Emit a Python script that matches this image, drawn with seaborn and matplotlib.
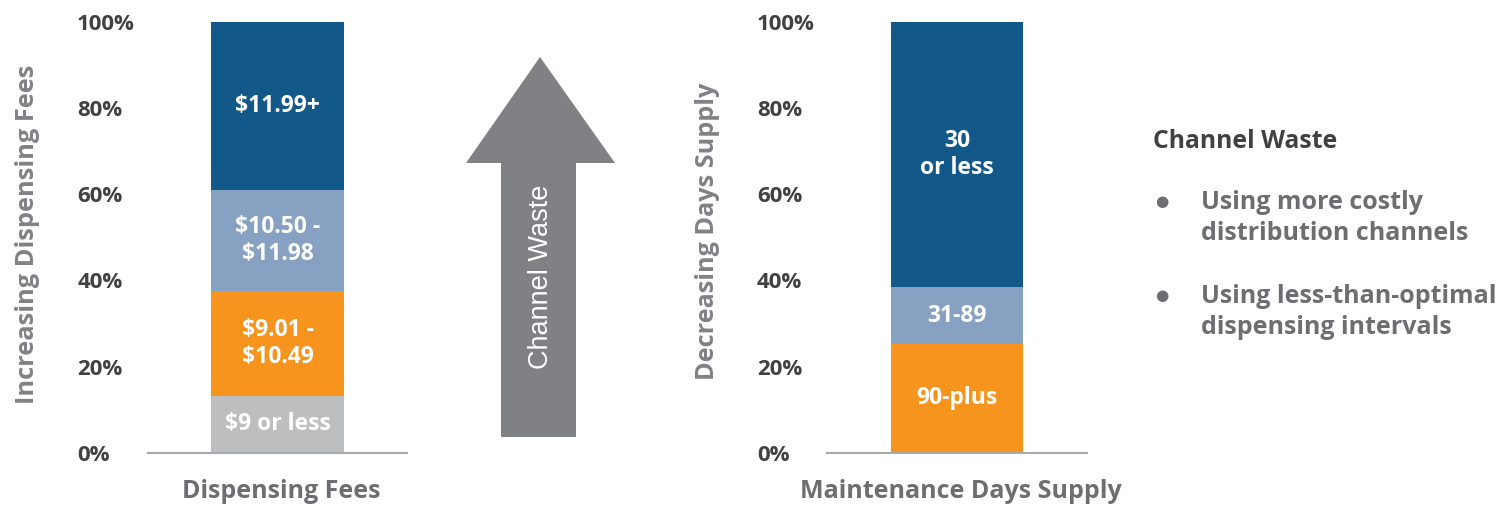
import matplotlib
matplotlib.use("Agg")
import matplotlib.pyplot as plt
from matplotlib.patches import Polygon
import seaborn as sns
import pandas as pd
import numpy as np

# ---------------- data ----------------
fee_categories = ["$9 or less", "$9.01 -\n$10.49", "$10.50 -\n$11.98", "$11.99+"]
fee_shares = [13.2, 24.4, 23.4, 39.0]
days_categories = ["90-plus", "31-89", "30\nor less"]
days_shares = [25.2, 13.2, 61.6]
yticks = [0, 20, 40, 60, 80, 100]
ytick_labels = ["0%", "20%", "40%", "60%", "80%", "100%"]
bullets = ["Using more costly\ndistribution channels",
           "Using less-than-optimal\ndispensing intervals"]

fee_colors = ["#bcbec0", "#f7941e", "#86a1c2", "#12598a"]
days_colors = ["#f7941e", "#86a1c2", "#12598a"]

sns.set_theme(style="white")
plt.rcParams["font.family"] = ["Open Sans", "DejaVu Sans"]

W, H = 1505, 509
fig = plt.figure(figsize=(W / 100, H / 100), dpi=100)


def px(x, y):
    return x / W, 1 - y / H


def stacked(ax, name, cats, shares, colors):
    cum = np.cumsum(shares)
    df = pd.DataFrame({"group": [name] * len(cats), "segment": cats,
                       "cum": cum, "share": shares})
    # draw tallest first so smaller cumulative bars sit in front
    for i in range(len(cats) - 1, -1, -1):
        sns.barplot(data=df.iloc[[i]], x="group", y="cum", color=colors[i],
                    width=0.51, saturation=1, ax=ax, edgecolor="none",
                    linewidth=0)
    bottoms = cum - np.array(shares)
    for c, b, s in zip(cats, bottoms, shares):
        ax.text(0, b + s / 2, c, ha="center", va="center", color="white",
                fontsize=16.5, fontweight="bold", linespacing=1.15)
    ax.set_xlim(-0.5, 0.5)
    ax.set_ylim(0, 100)
    ax.set_yticks(yticks)
    ax.set_yticklabels(ytick_labels)
    for sp in ["top", "right", "left"]:
        ax.spines[sp].set_visible(False)
    ax.spines["bottom"].set_color("#a7a9ac")
    ax.spines["bottom"].set_linewidth(1.5)
    ax.set_xticks([])
    ax.set_xlabel("")
    ax.set_ylabel("")
    ax.tick_params(axis="y", length=0, labelsize=16, labelcolor="#414042")
    for t in ax.get_yticklabels():
        t.set_fontweight("bold")
        t.set_ha("left")


ax1 = fig.add_axes([148 / W, 1 - 452.7 / H, 259 / W, 430.7 / H])
stacked(ax1, "Dispensing Fees", fee_categories, fee_shares, fee_colors)
ax1.tick_params(axis="y", pad=51)

ax2 = fig.add_axes([827 / W, 1 - 452.7 / H, 260 / W, 430.7 / H])
stacked(ax2, "Maintenance Days Supply", days_categories, days_shares, days_colors)
ax2.tick_params(axis="y", pad=50.4)

lab_kw = dict(fontsize=18, fontweight="bold", color="#6d6e71")
fig.text(*px(281, 492), "Dispensing Fees", ha="center", va="center", **lab_kw)
fig.text(*px(961, 492), "Maintenance Days Supply", ha="center", va="center", **lab_kw)
fig.text(*px(28, 234), "Increasing Dispensing Fees", ha="center", va="center",
         rotation=90, fontsize=18.3, fontweight="bold", color="#808285")
fig.text(*px(707, 231), "Decreasing Days Supply", ha="center", va="center",
         rotation=90, fontsize=18.2, fontweight="bold", color="#808285")

# arrow
arrow_pts = [(501, 437), (576, 437), (576, 163), (615, 163), (540, 57),
             (466, 163), (501, 163)]
arrow = Polygon([px(x, y) for x, y in arrow_pts], closed=True,
                transform=fig.transFigure, facecolor="#808184", edgecolor="none")
fig.patches.append(arrow)
fig.text(*px(541, 277), "Channel Waste", ha="center", va="center", rotation=90,
         color="white", fontsize=19.5, family=["Liberation Sans", "DejaVu Sans"])

# right-hand text
fig.text(*px(1153, 141), "Channel Waste", ha="left", va="center",
         fontsize=17.8, fontweight="bold", color="#414042")
for i, b in enumerate(bullets):
    yc = [218, 312][i]
    fig.text(*px(1162, [201, 295][i]), "\u25CF", ha="center", va="center",
             fontsize=11, color="#6d6e71", family=["DejaVu Sans"])
    fig.text(*px(1201, yc), b, ha="left", va="center", fontsize=18,
             fontweight="bold", color="#6d6e71", linespacing=1.3)

fig.savefig("out.png", dpi=100)
